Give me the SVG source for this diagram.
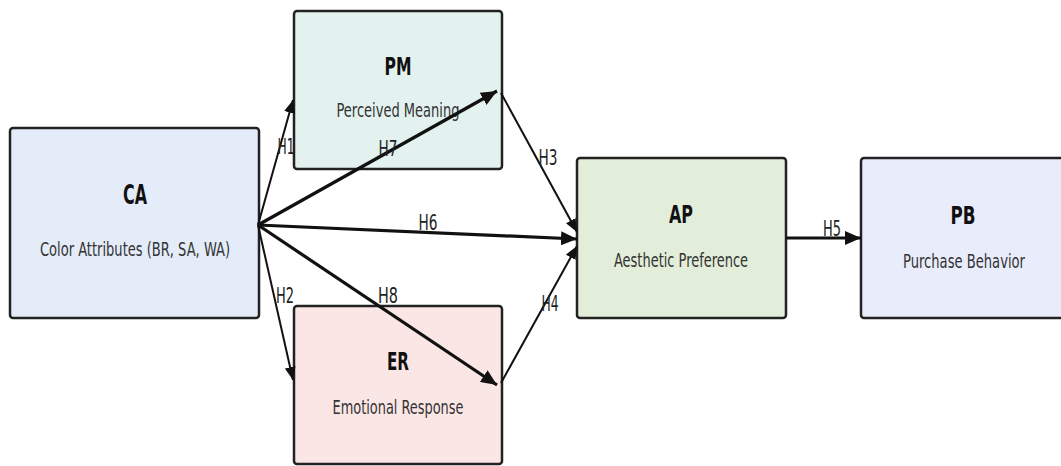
<svg xmlns="http://www.w3.org/2000/svg" width="1061" height="466" viewBox="0 0 1061 466">
<style>
.box{stroke:#222;stroke-width:2.5}
.t{font-family:"DejaVu Sans Condensed","DejaVu Sans",sans-serif;font-weight:bold;fill:#111;text-anchor:middle}
.s{font-family:"DejaVu Sans Condensed","DejaVu Sans",sans-serif;fill:#333;text-anchor:middle;font-size:19px}
.l{font-family:"DejaVu Sans Condensed","DejaVu Sans",sans-serif;fill:#222;text-anchor:middle;font-size:21px}
.thin{stroke:#111;stroke-width:2;fill:none}
.thick{stroke:#111;stroke-width:3.2;fill:none}
</style>
<defs>
<marker id="ah" markerUnits="userSpaceOnUse" markerWidth="16" markerHeight="14" viewBox="0 0 16 14" refX="16" refY="7" orient="auto">
<path d="M0,0 L16,7 L0,14 Z" fill="#111"/>
</marker>
<marker id="as" markerUnits="userSpaceOnUse" markerWidth="13" markerHeight="11" viewBox="0 0 13 11" refX="13" refY="5.5" orient="auto">
<path d="M0,0 L13,5.5 L0,11 Z" fill="#111"/>
</marker>
</defs>
<rect width="1061" height="466" fill="#fff"/>
<g id="CA">
<rect class="box" x="10" y="128" width="249" height="190" rx="3" fill="#e4ecfa"/>
<text class="t" x="135" y="204" font-size="27" textLength="24" lengthAdjust="spacingAndGlyphs">CA</text>
<text class="s" x="135" y="256" textLength="190" lengthAdjust="spacingAndGlyphs">Color Attributes (BR, SA, WA)</text>
</g>
<g id="PM">
<rect class="box" x="294" y="11" width="208" height="158" rx="3" fill="#e3f2ef"/>
<text class="t" x="398" y="75" font-size="25" textLength="27" lengthAdjust="spacingAndGlyphs">PM</text>
<text class="s" x="398" y="117" textLength="123" lengthAdjust="spacingAndGlyphs">Perceived Meaning</text>
</g>
<g id="ER">
<rect class="box" x="294" y="306" width="208" height="158" rx="3" fill="#fbe6e6"/>
<text class="t" x="398" y="370" font-size="25" textLength="22" lengthAdjust="spacingAndGlyphs">ER</text>
<text class="s" x="398" y="414" textLength="131" lengthAdjust="spacingAndGlyphs">Emotional Response</text>
</g>
<g id="AP">
<rect class="box" x="577" y="158" width="209" height="160" rx="3" fill="#e2eed9"/>
<text class="t" x="681" y="223" font-size="25" textLength="24" lengthAdjust="spacingAndGlyphs">AP</text>
<text class="s" x="681" y="267" textLength="134" lengthAdjust="spacingAndGlyphs">Aesthetic Preference</text>
</g>
<g id="PB">
<rect class="box" x="861" y="158" width="204" height="160" rx="3" fill="#e9ecfb"/>
<text class="t" x="963" y="224" font-size="25" textLength="25" lengthAdjust="spacingAndGlyphs">PB</text>
<text class="s" x="964" y="268" textLength="122" lengthAdjust="spacingAndGlyphs">Purchase Behavior</text>
</g>
<g id="connectors">
<line class="thin" x1="258" y1="225" x2="293" y2="100" marker-end="url(#as)"/>
<line class="thin" x1="258" y1="225" x2="293" y2="380" marker-end="url(#as)"/>
<line class="thick" x1="258" y1="225" x2="497" y2="91" marker-end="url(#ah)"/>
<line class="thick" x1="258" y1="225" x2="497" y2="385" marker-end="url(#ah)"/>
<line class="thick" x1="258" y1="225" x2="577" y2="239" marker-end="url(#ah)"/>
<line class="thin" x1="501" y1="93" x2="577" y2="232" marker-end="url(#as)"/>
<line class="thin" x1="501" y1="383" x2="577" y2="246" marker-end="url(#as)"/>
<line class="thick" x1="786" y1="238" x2="861" y2="238" marker-end="url(#ah)"/>
</g>
<g id="labels">
<text class="l" x="286" y="154" textLength="17" lengthAdjust="spacingAndGlyphs">H1</text>
<text class="l" x="285" y="303" textLength="18" lengthAdjust="spacingAndGlyphs">H2</text>
<text class="l" x="388" y="156" textLength="19" lengthAdjust="spacingAndGlyphs">H7</text>
<text class="l" x="548" y="165" textLength="19" lengthAdjust="spacingAndGlyphs">H3</text>
<text class="l" x="388" y="303" textLength="20" lengthAdjust="spacingAndGlyphs">H8</text>
<text class="l" x="550" y="311" textLength="17" lengthAdjust="spacingAndGlyphs">H4</text>
<text class="l" x="428" y="230" textLength="19" lengthAdjust="spacingAndGlyphs">H6</text>
<text class="l" x="832" y="236" textLength="18" lengthAdjust="spacingAndGlyphs">H5</text>
</g>
</svg>
